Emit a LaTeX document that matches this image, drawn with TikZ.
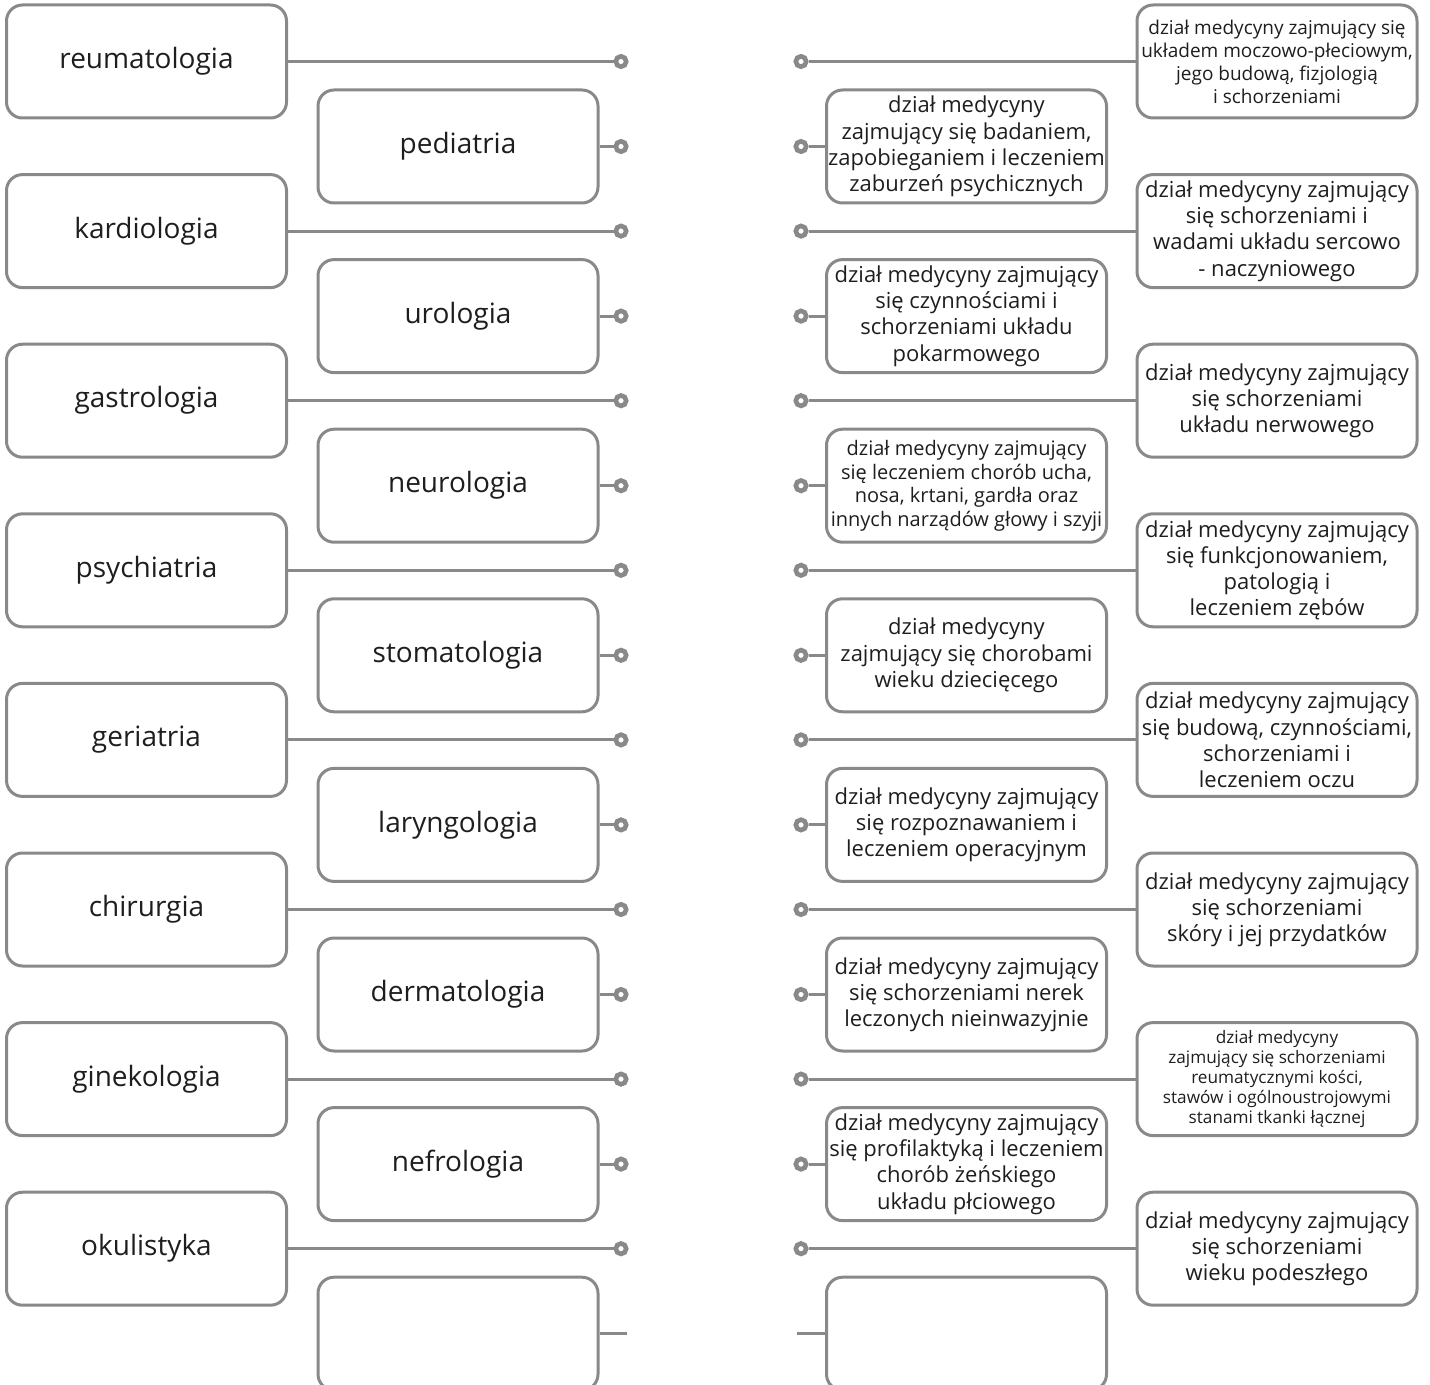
\documentclass[tikz,border=0pt]{standalone}
\usepackage{fontspec}
\setmainfont{Open Sans}
\definecolor{linegray}{HTML}{898989}
\definecolor{txtblack}{HTML}{1E1E1E}
\tikzset{box/.style = {draw = linegray,line width = 1.5pt,rounded corners = 8pt,minimum width = 140pt,minimum height = 56.5pt,align = center,inner xsep = 0.5pt,inner ysep = 2pt,text = txtblack},
term/.style = {box,font = \fontsize{14}{17}\selectfont},
defbig/.style = {box,font = \fontsize{11}{13.1}\selectfont},
defmid/.style = {box,font = \fontsize{10}{11.8}\selectfont},
defsmall/.style = {box,font = \fontsize{9.5}{11.5}\selectfont},
deftiny/.style = {box,font = \fontsize{8.6}{10}\selectfont},
dot/.style = {circle,draw = linegray,line width = 2.3pt,fill = white,minimum size = 5.2pt,inner sep = 0pt},
link/.style = {draw = linegray,line width = 1.5pt}}

\begin{document}
\begin{tikzpicture}[x = 0.5pt,y = -0.5pt]
\useasboundingbox (0,0) rectangle (1430,1385);

% terms, left column
\node[term] (reum) at (146.5,61.5) {reumatologia};
\node[term] (kard) at (146.5,231.1) {kardiologia};
\node[term] (gast) at (146.5,400.7) {gastrologia};
\node[term] (psych) at (146.5,570.3) {psychiatria};
\node[term] (geri) at (146.5,739.9) {geriatria};
\node[term] (chir) at (146.5,909.5) {chirurgia};
\node[term] (gine) at (146.5,1079.1) {ginekologia};
\node[term] (okul) at (146.5,1248.7) {okulistyka};

% terms, second column
\node[term] (pedi) at (458,146.5) {pediatria};
\node[term] (urol) at (458,316.1) {urologia};
\node[term] (neur) at (458,485.7) {neurologia};
\node[term] (stom) at (458,655.3) {stomatologia};
\node[term] (lary) at (458,824.9) {laryngologia};
\node[term] (derm) at (458,994.5) {dermatologia};
\node[term] (nefr) at (458,1164.1) {nefrologia};
\node[term] (termempty) at (458,1333.7) {};

% definitions, right column
\node[defsmall] (dA) at (1277,61.5) {dział medycyny zajmujący się \\ układem moczowo-płeciowym, \\ jego budową, fizjologią \\ i schorzeniami};
\node[defbig] (dB) at (1277,231.1) {dział medycyny zajmujący \\ się schorzeniami i \\ wadami układu sercowo \\ - naczyniowego};
\node[defbig] (dC) at (1277,400.7) {dział medycyny zajmujący \\ się schorzeniami \\ układu nerwowego};
\node[defbig] (dD) at (1277,570.3) {dział medycyny zajmujący \\ się funkcjonowaniem, \\ patologią i \\ leczeniem zębów};
\node[defbig] (dE) at (1277,739.9) {dział medycyny zajmujący \\ się budową, czynnościami, \\ schorzeniami i \\ leczeniem oczu};
\node[defbig] (dF) at (1277,909.5) {dział medycyny zajmujący \\ się schorzeniami \\ skóry i jej przydatków};
\node[deftiny] (dG) at (1277,1079.1) {dział medycyny \\ zajmujący się schorzeniami \\ reumatycznymi kości, \\ stawów i ogólnoustrojowymi \\ stanami tkanki łącznej};
\node[defbig] (dH) at (1277,1248.7) {dział medycyny zajmujący \\ się schorzeniami \\ wieku podeszłego};

% definitions, third column
\node[defbig] (eA) at (966.5,146.5) {dział medycyny \\ zajmujący się badaniem, \\ zapobieganiem i leczeniem \\ zaburzeń psychicznych};
\node[defbig] (eB) at (966.5,316.1) {dział medycyny zajmujący \\ się czynnościami i \\ schorzeniami układu \\ pokarmowego};
\node[defmid] (eC) at (966.5,485.7) {dział medycyny zajmujący \\ się leczeniem chorób ucha, \\ nosa, krtani, gardła oraz \\ innych narządów głowy i szyji};
\node[defbig] (eD) at (966.5,655.3) {dział medycyny \\ zajmujący się chorobami \\ wieku dziecięcego};
\node[defbig] (eE) at (966.5,824.9) {dział medycyny zajmujący \\ się rozpoznawaniem i \\ leczeniem operacyjnym};
\node[defbig] (eF) at (966.5,994.5) {dział medycyny zajmujący \\ się schorzeniami nerek \\ leczonych nieinwazyjnie};
\node[defbig] (eG) at (966.5,1164.1) {dział medycyny zajmujący \\ się profilaktyką i leczeniem \\ chorób żeńskiego \\ układu płciowego};
\node[defbig] (defempty) at (966.5,1333.7) {};

% dots on the left
\node[dot] (l1) at (621,61.5) {};
\node[dot] (l2) at (621,146.5) {};
\node[dot] (l3) at (621,231.1) {};
\node[dot] (l4) at (621,316.1) {};
\node[dot] (l5) at (621,400.7) {};
\node[dot] (l6) at (621,485.7) {};
\node[dot] (l7) at (621,570.3) {};
\node[dot] (l8) at (621,655.3) {};
\node[dot] (l9) at (621,739.9) {};
\node[dot] (l10) at (621,824.9) {};
\node[dot] (l11) at (621,909.5) {};
\node[dot] (l12) at (621,994.5) {};
\node[dot] (l13) at (621,1079.1) {};
\node[dot] (l14) at (621,1164.1) {};
\node[dot] (l15) at (621,1248.7) {};
\coordinate (l16) at (627,1333.7);

% dots on the right
\node[dot] (r1) at (801,61.5) {};
\node[dot] (r2) at (801,146.5) {};
\node[dot] (r3) at (801,231.1) {};
\node[dot] (r4) at (801,316.1) {};
\node[dot] (r5) at (801,400.7) {};
\node[dot] (r6) at (801,485.7) {};
\node[dot] (r7) at (801,570.3) {};
\node[dot] (r8) at (801,655.3) {};
\node[dot] (r9) at (801,739.9) {};
\node[dot] (r10) at (801,824.9) {};
\node[dot] (r11) at (801,909.5) {};
\node[dot] (r12) at (801,994.5) {};
\node[dot] (r13) at (801,1079.1) {};
\node[dot] (r14) at (801,1164.1) {};
\node[dot] (r15) at (801,1248.7) {};
\coordinate (r16) at (797,1333.7);

\draw[link] (reum) -- (l1);
\draw[link] (pedi) -- (l2);
\draw[link] (kard) -- (l3);
\draw[link] (urol) -- (l4);
\draw[link] (gast) -- (l5);
\draw[link] (neur) -- (l6);
\draw[link] (psych) -- (l7);
\draw[link] (stom) -- (l8);
\draw[link] (geri) -- (l9);
\draw[link] (lary) -- (l10);
\draw[link] (chir) -- (l11);
\draw[link] (derm) -- (l12);
\draw[link] (gine) -- (l13);
\draw[link] (nefr) -- (l14);
\draw[link] (okul) -- (l15);
\draw[link] (termempty.east) -- (l16);

\draw[link] (r1) -- (dA);
\draw[link] (r2) -- (eA);
\draw[link] (r3) -- (dB);
\draw[link] (r4) -- (eB);
\draw[link] (r5) -- (dC);
\draw[link] (r6) -- (eC);
\draw[link] (r7) -- (dD);
\draw[link] (r8) -- (eD);
\draw[link] (r9) -- (dE);
\draw[link] (r10) -- (eE);
\draw[link] (r11) -- (dF);
\draw[link] (r12) -- (eF);
\draw[link] (r13) -- (dG);
\draw[link] (r14) -- (eG);
\draw[link] (r15) -- (dH);
\draw[link] (r16) -- (defempty.west);
\end{tikzpicture}
\end{document}
